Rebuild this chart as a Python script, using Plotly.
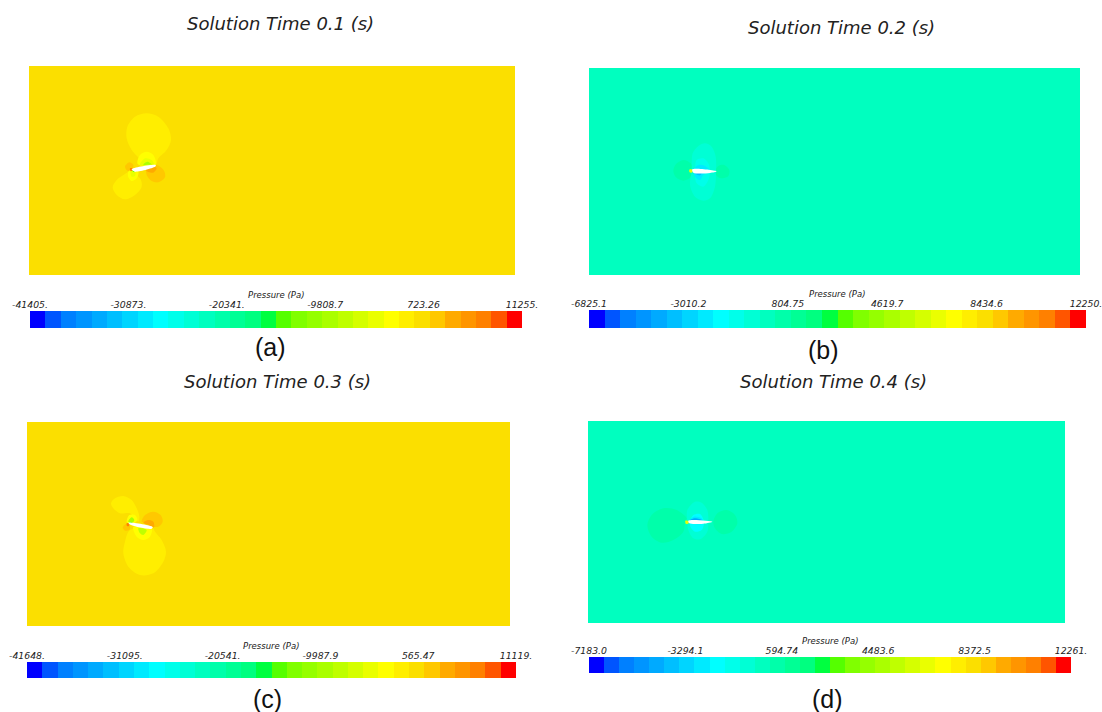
import numpy as np
import plotly.graph_objects as go

W, H = 1102, 712

# Colour bands of the pressure scale
BANDS = ["#0000FF", "#0055FF", "#0080FF", "#0095FF", "#00AAFF", "#00BFFF", "#00D5FF", "#00EAFF",
         "#00FFFF", "#00FFEA", "#00FFD5", "#00FFBF", "#00FFAA", "#00FF95", "#00FF80", "#00FF40",
         "#55FF00", "#80FF00", "#95FF00", "#AAFF00", "#BFFF00", "#D5FF00", "#EAFF00", "#FFFF00",
         "#FFEE00", "#FBDF00", "#FFC800", "#FFAA00", "#FF9500", "#FF8000", "#FF5500", "#FF0000"]

TITLES = ["Solution Time 0.1 (s)", "Solution Time 0.2 (s)", "Solution Time 0.3 (s)", "Solution Time 0.4 (s)"]
LETTERS = ["(a)", "(b)", "(c)", "(d)"]

# Tick labels and values of each colour bar
TICKS_A = ["-41405.", "-30873.", "-20341.", "-9808.7", "723.26", "11255."]
TICKS_B = ["-6825.1", "-3010.2", "804.75", "4619.7", "8434.6", "12250."]
TICKS_C = ["-41648.", "-31095.", "-20541.", "-9987.9", "565.47", "11119."]
TICKS_D = ["-7183.0", "-3294.1", "594.74", "4483.6", "8372.5", "12261."]
VALUES_A = [-41405, -30873, -20341, -9808.7, 723.26, 11255]
VALUES_B = [-6825.1, -3010.2, 804.75, 4619.7, 8434.6, 12250]
VALUES_C = [-41648, -31095, -20541, -9987.9, 565.47, 11119]
VALUES_D = [-7183.0, -3294.1, 594.74, 4483.6, 8372.5, 12261]

# Background band of each field
BG_LEVEL = [25, 11, 25, 11]

# Iso-pressure regions: (band, outline), outlines read in image pixels relative to a crop corner, 3x
FIELD_A = [
    (24, [(150,180),(125,150),(110,115),(112,80),(135,50),(170,40),(205,50),(235,85),(243,120),(230,150),(205,175),(197,195),(150,197),(150,180)]),
    (24, [(118,215),(150,235),(155,260),(135,285),(105,298),(80,285),(68,262),(80,240),(105,222),(118,215)]),
    (26, [(170,205),(200,195),(222,212),(225,232),(205,247),(185,243),(170,225),(170,205)]),
    (26, [(105,200),(118,187),(130,195),(125,212),(112,212),(105,200)]),
    (23, [(143,192),(150,165),(170,155),(190,165),(197,195),(143,192)]),
    (22, [(150,195),(165,175),(185,180),(192,195),(150,195)]),
    (19, [(160,194),(172,185),(185,193),(160,194)]),
    (23, [(115,215),(125,210),(145,215),(140,235),(125,243),(115,232),(115,215)]),
    (22, [(122,212),(135,214),(135,228),(125,230),(122,212)]),
    (27, [(165,207),(185,197),(200,205),(190,218),(175,216),(165,207)]),
]
FOIL_A = [(125,208),(197,195),(197,199),(135,215),(125,208)]
EDGE_A = [(29, [(120,205),(127,205),(127,212),(121,212),(120,205)]), (16, [(127,211),(135,213),(130,216),(127,211)])]

FIELD_B = [
    (12, [(70,122),(78,102),(100,90),(122,100),(130,122),(122,142),(100,152),(78,142),(70,122)]),
    (12, [(195,125),(205,108),(222,105),(238,120),(235,138),(218,145),(203,140),(195,125)]),
    (10, [(125,122),(128,70),(145,48),(165,40),(185,50),(197,80),(198,122),(195,170),(180,205),(160,212),(135,200),(120,165),(125,122)]),
    (9, [(135,122),(140,90),(160,85),(175,100),(180,122),(175,150),(160,170),(140,160),(135,122)]),
    (7, [(130,120),(145,105),(165,108),(180,122),(160,135),(150,150),(135,140),(130,120)]),
    (5, [(132,127),(155,128),(150,136),(138,133),(132,127)]),
]
FOIL_B = [(127,118),(200,124),(180,129),(130,128),(127,118)]
EDGE_B = [(22, [(118,119),(127,119),(127,127),(119,127),(118,119)])]

FIELD_C = [
    (24, [(145,125),(120,100),(90,100),(70,85),(63,70),(75,55),(100,48),(125,60),(140,85),(148,110),(145,125)]),
    (24, [(120,150),(105,185),(100,220),(115,260),(150,285),(190,280),(220,245),(228,215),(215,180),(195,155),(188,143),(120,150)]),
    (26, [(155,125),(165,105),(190,95),(212,105),(218,125),(205,140),(190,140),(165,128),(155,125)]),
    (27, [(160,128),(175,120),(190,125),(192,142),(175,135),(160,128)]),
    (26, [(98,142),(108,132),(120,138),(118,150),(105,152),(98,142)]),
    (23, [(110,125),(118,105),(135,105),(142,120),(130,132),(115,132),(110,125)]),
    (19, [(115,125),(125,112),(133,120),(125,130),(115,125)]),
    (23, [(130,140),(185,145),(180,170),(160,180),(140,170),(130,140)]),
    (20, [(145,145),(170,150),(160,165),(150,160),(145,145)]),
]
FOIL_C = [(115,128),(188,141),(185,146),(125,136),(115,128)]
EDGE_C = [(29, [(110,130),(117,130),(117,138),(111,138),(110,130)]), (15, [(117,128),(125,128),(125,133),(117,128)])]

FIELD_D = [
    (12, [(165,95),(160,125),(130,150),(95,158),(65,140),(52,105),(65,75),(100,55),(140,60),(170,85),(165,95)]),
    (12, [(250,95),(262,70),(290,60),(315,75),(322,100),(305,125),(275,132),(255,115),(250,95)]),
    (10, [(172,95),(172,60),(195,35),(215,38),(232,60),(235,95),(232,125),(210,148),(190,145),(175,120),(172,95)]),
    (8, [(180,95),(190,75),(210,72),(222,95),(215,120),(195,125),(182,112),(180,95)]),
    (7, [(178,92),(192,80),(214,85),(222,100),(195,102),(178,92)]),
    (4, [(178,92),(195,85),(215,90),(195,94),(178,92)]),
]
FOIL_D = [(175,92),(247,95),(220,101),(178,100),(175,92)]
EDGE_D = [(22, [(166,92),(175,93),(176,100),(168,102),(166,92)])]

CROPS = [(90, 100), (650, 130), (90, 480), (630, 490)]
FIELDS = [FIELD_A, FIELD_B, FIELD_C, FIELD_D]
FOILS = [FOIL_A, FOIL_B, FOIL_C, FOIL_D]
EDGES = [EDGE_A, EDGE_B, EDGE_C, EDGE_D]
TICKS = [TICKS_A, TICKS_B, TICKS_C, TICKS_D]
VALUES = [VALUES_A, VALUES_B, VALUES_C, VALUES_D]

# Layout in pixels
PANELS = [(29, 515, 66, 275), (589, 1080, 68, 275), (27, 510, 422, 626), (588, 1065, 421, 623)]
BARS = [(30, 522, 311, 328), (589, 1086, 310, 328), (27, 516, 662, 678), (589, 1071, 657, 673)]
TITLE_POS = [(280, 24), (841, 28), (277, 381), (833, 381)]
LETTER_POS = [(270, 347), (823, 350), (267, 699), (827, 699)]

COLORSCALE = []
for i, c in enumerate(BANDS):
    COLORSCALE += [[i / 32, c], [(i + 1) / 32, c]]

fig = go.Figure()
layout = {}
annotations = []


def dom_x(a, b):
    return [a / W, b / W]


def dom_y(a, b):
    return [1 - b / H, 1 - a / H]


def band_heat(x, z, xa, ya, y):
    return go.Heatmap(x=x, y=y, z=z, xaxis=xa, yaxis=ya, colorscale=COLORSCALE, zmin=-0.5, zmax=31.5,
                      showscale=False, hoverinfo="skip")


def region(pts, crop, color, xa, ya):
    xs = [p[0] / 3 + crop[0] for p in pts]
    ys = [p[1] / 3 + crop[1] for p in pts]
    return go.Scatter(x=xs, y=ys, mode="lines", fill="toself", fillcolor=color,
                      line=dict(width=0, shape="spline", smoothing=0.9, color=color),
                      xaxis=xa, yaxis=ya, hoverinfo="skip", showlegend=False)


for k in range(4):
    n1, n2 = 2 * k + 1, 2 * k + 2
    xa1, ya1 = f"x{n1}", f"y{n1}"
    xa2, ya2 = f"x{n2}", f"y{n2}"
    x0, x1, y0, y1 = PANELS[k]
    layout[f"xaxis{n1}"] = dict(domain=dom_x(x0, x1), range=[x0, x1], visible=False, anchor=ya1)
    layout[f"yaxis{n1}"] = dict(domain=dom_y(y0, y1), range=[y1, y0], visible=False, anchor=xa1)
    fig.add_trace(band_heat([x0, x1], [[BG_LEVEL[k]]], xa1, ya1, [y0, y1]))
    for level, pts in FIELDS[k]:
        fig.add_trace(region(pts, CROPS[k], BANDS[level], xa1, ya1))
    for level, pts in EDGES[k]:
        fig.add_trace(region(pts, CROPS[k], BANDS[level], xa1, ya1))
    fig.add_trace(region(FOILS[k], CROPS[k], "#FFFFFF", xa1, ya1))

    bx0, bx1, by0, by1 = BARS[k]
    vals = VALUES[k]
    edges = np.linspace(vals[0], vals[-1], 33)
    layout[f"xaxis{n2}"] = dict(domain=dom_x(bx0, bx1), range=[vals[0], vals[-1]], anchor=ya2, side="top",
                                tickmode="array", tickvals=vals, ticktext=[f"<i>{t}</i>" for t in TICKS[k]],
                                ticks="", showgrid=False, zeroline=False, showline=False,
                                tickangle=0, automargin=False, ticklabeloverflow="allow",
                                tickfont=dict(family="DejaVu Sans", size=9.3, color="#222222"))
    layout[f"yaxis{n2}"] = dict(domain=dom_y(by0, by1), range=[0, 1], visible=False, anchor=xa2)
    fig.add_trace(band_heat(edges, [list(range(32))], xa2, ya2, [0, 1]))

    annotations.append(dict(text=f"<i>{TITLES[k]}</i>", x=TITLE_POS[k][0] / W, y=1 - TITLE_POS[k][1] / H,
                            xref="paper", yref="paper", showarrow=False, xanchor="center", yanchor="middle",
                            font=dict(family="DejaVu Sans", size=18, color="#222222")))
    annotations.append(dict(text=LETTERS[k], x=LETTER_POS[k][0] / W, y=1 - LETTER_POS[k][1] / H,
                            xref="paper", yref="paper", showarrow=False, xanchor="center", yanchor="middle",
                            font=dict(family="Liberation Sans", size=25, color="#111111")))
    annotations.append(dict(text="<i>Pressure (Pa)</i>", x=(bx0 + bx1) / 2 / W, y=1 - (by0 - 16) / H,
                            xref="paper", yref="paper", showarrow=False, xanchor="center", yanchor="middle",
                            font=dict(family="DejaVu Sans", size=8.5, color="#222222")))

fig.update_layout(width=W, height=H, margin=dict(l=0, r=0, t=0, b=0), paper_bgcolor="white", plot_bgcolor="white",
                  showlegend=False, annotations=annotations, **layout)

fig.write_html("out.html", config={"displayModeBar": False},
               post_script="document.body.style.margin='0';document.documentElement.style.overflow='hidden';")
